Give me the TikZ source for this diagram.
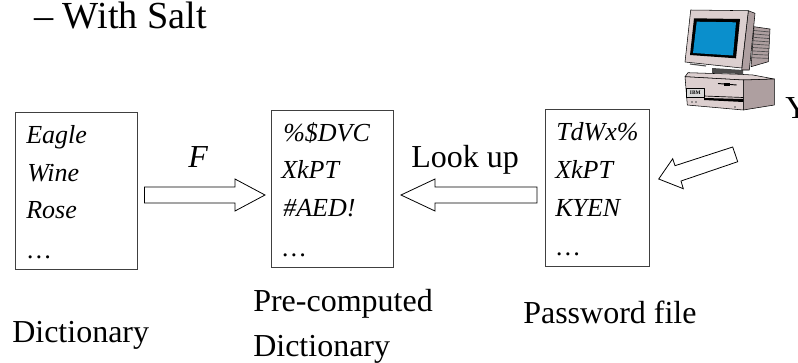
\documentclass[tikz,border=0pt]{standalone}
\usepackage{fontspec}
\setmainfont{Liberation Serif}
\definecolor{pcface}{HTML}{DCCFCF}
\definecolor{pcside}{HTML}{AE9FA0}
\definecolor{pcblue}{HTML}{0A8FCC}
\begin{document}
\begin{tikzpicture}[x=0.75pt,y=-0.75pt,
  docbox/.style={draw=black!75,line width=0.75pt,fill=white},
  blockarrow/.style={draw=black,line width=0.6pt,fill=white,line join=miter},
  entry/.style={anchor=base west,inner sep=0pt,font=\fontsize{19.5}{19.5}\selectfont\itshape},
  caption/.style={anchor=base west,inner sep=0pt,font=\fontsize{24}{24}\selectfont},
  big/.style={anchor=base west,inner sep=0pt,font=\fontsize{24}{24}\selectfont},
  pcline/.style={draw=black,line width=0.4pt,line join=round}]
\useasboundingbox (0,0) rectangle (798,362);
\fill[white] (0,0) rectangle (798,362);
\node[big,font=\fontsize{28.7}{28.7}\selectfont] (title) at (34,28) {– With Salt};
% boxes
\draw[docbox] (15,112) rectangle (137,269);
\draw[docbox] (271,110) rectangle (393,267);
\draw[docbox] (545,109) rectangle (649,266);
% entries
\node[entry] (a1) at (26,143) {Eagle};
\node[entry] (a2) at (27,181) {Wine};
\node[entry] (a3) at (26,218) {Rose};
\node[entry] (a4) at (27.5,258) {…};
\node[entry] (b1) at (283,141) {\%\$DVC};
\node[entry] (b2) at (281,178) {XkPT};
\node[entry] (b3) at (283,216) {\#AED!};
\node[entry] (b4) at (282.5,256) {…};
\node[entry] (c1) at (556,140) {TdWx\%};
\node[entry] (c2) at (555,178) {XkPT};
\node[entry] (c3) at (555,216) {KYEN};
\node[entry] (c4) at (556.5,255) {…};
\node[big,font=\fontsize{24}{24}\selectfont\itshape] (f) at (188,167) {F};
\node[big] (look) at (411,167) {Look up};
% arrows
\draw[blockarrow] (144.5,187) -- (235,187) -- (235,179) -- (265,195) -- (235,211) -- (235,203) -- (144.5,203) -- cycle;
\draw[blockarrow] (537,187) -- (435,187) -- (435,179) -- (401,195) -- (435,211) -- (435,203) -- (537,203) -- cycle;
\draw[blockarrow] (732.7,147) -- (675,165.7) -- (672.7,158.7) -- (658.7,179) -- (683.3,188.7) -- (681,181) -- (737.7,161.7) -- cycle;
% captions
\node[caption] (d1) at (12,342) {Dictionary};
\node[caption] (d2) at (253,311) {Pre-computed};
\node[caption] (d3) at (253,356) {Dictionary};
\node[caption] (d4) at (523,323) {Password file};
\node[big] (y) at (785,118) {Y};
% computer: vents
\draw[pcline,fill=pcside] (754,26.7) -- (770,29) -- (768.3,61.7) -- (751,66.7) -- cycle;
\foreach \i in {0,...,8}
  \draw[black!70,line width=0.5pt] ({754-0.3*\i},{30.5+3.4*\i}) -- ({769.8-0.17*\i},{32+3.3*\i});
% computer: stand
\fill[black!70] (712,68) -- (743,70) -- (743,74) -- (712,73) -- cycle;
% computer: monitor
\draw[pcline,fill=pcside] (748.3,10.7) -- (755,13.3) -- (749.3,70) -- (741.7,70) -- cycle;
\draw[pcline,fill=pcface] (690.7,10) -- (748.3,10.7) -- (741.7,68) -- (685,62) -- cycle;
\fill[black] (694,18.3) -- (740,19) -- (736,58.3) -- (690,55) -- cycle;
\fill[pcblue] (696.7,21.7) -- (736,22.3) -- (733,55.5) -- (693,53) -- cycle;
\draw[black!70,line width=0.8pt] (690,64) -- (706,66);
% computer: case
\draw[pcline,fill=pcface] (688,72.7) -- (740,74.3) -- (753,75) -- (774.3,79) -- (743.3,80) -- (685,76.7) -- cycle;
\draw[pcline,fill=pcside] (743.3,80) -- (774.3,79) -- (774.3,105) -- (743.3,110) -- cycle;
\draw[pcline,fill=pcface] (685,76.7) -- (743.3,80) -- (743.3,110) -- (687.3,105) -- cycle;
\fill[black] (704,98) -- (743.3,99) -- (743.3,102) -- (704,100) -- cycle;
\draw[black,line width=0.5pt] (704,88.3) -- (704,98) (704,96) -- (743.3,97.5);
\draw[pcline,fill=white!85!black] (686.7,88.3) rectangle (704,97.3);
\node[inner sep=0pt,font=\fontsize{4}{4}\selectfont\bfseries] (badge) at (695.3,92.8) {IBM};
\draw[black,line width=0.7pt] (718,83.5) -- (736.7,85);
\fill[black] (724,82.5) rectangle (730,86);
\fill[black!70] (692,102) circle (0.8) (696,102) circle (0.8) (735,107) circle (0.8);
\end{tikzpicture}
\end{document}
